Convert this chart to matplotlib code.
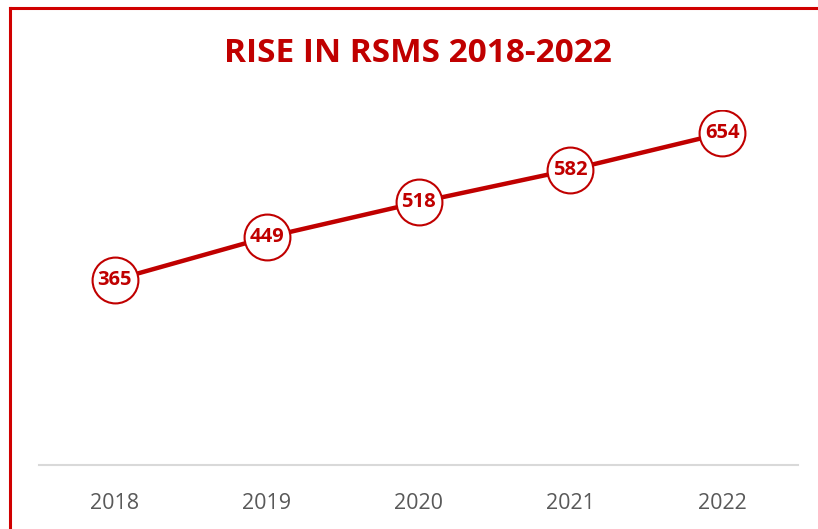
import matplotlib
matplotlib.use("Agg")
import matplotlib.pyplot as plt
from matplotlib.lines import Line2D

years = ["2018", "2019", "2020", "2021", "2022"]
rsms = [365, 449, 518, 582, 654]

RED = "#C00000"
W, H = 818, 529
fig = plt.figure(figsize=(W / 100, H / 100), dpi=100)
fig.patch.set_facecolor("white")

# chart border (left and top visible)
fig.add_artist(Line2D([9.5 / W, 9.5 / W], [0, 1 - 8 / H], color="#D00000", lw=2.2, transform=fig.transFigure))
fig.add_artist(Line2D([9.5 / W, 1.0], [1 - 8 / H, 1 - 8 / H], color="#D00000", lw=2.2, transform=fig.transFigure))

ax = fig.add_axes([39 / W, (H - 465) / H, (798 - 39) / W, (465 - 110) / H])
x = list(range(len(years)))
ax.plot(x, rsms, color=RED, lw=3.2, marker="o", markersize=33,
        markerfacecolor="white", markeredgecolor=RED, markeredgewidth=1.5, zorder=3)
for xi, v in zip(x, rsms):
    ax.text(xi, v, str(v), ha="center", va="center", color=RED,
            fontsize=14.5, fontweight="bold", family=["Open Sans", "DejaVu Sans"], zorder=4)

ax.set_xlim(-0.5, len(years) - 0.5)
ax.set_ylim(0, 700)
ax.set_xticks(x)
ax.set_xticklabels(years, fontsize=15.5, color="#595959", family=["Open Sans", "DejaVu Sans"])
ax.tick_params(axis="x", length=0, pad=20)
ax.set_yticks([])
for s in ["left", "right", "top"]:
    ax.spines[s].set_visible(False)
ax.spines["bottom"].set_color("#D9D9D9")
ax.spines["bottom"].set_linewidth(1.5)

fig.text(418 / W, 1 - 53 / H, "RISE IN RSMS 2018-2022", ha="center", va="center",
         color=RED, fontsize=24, fontweight="bold", family=["Open Sans", "DejaVu Sans"])

fig.savefig("out.png", dpi=100)
